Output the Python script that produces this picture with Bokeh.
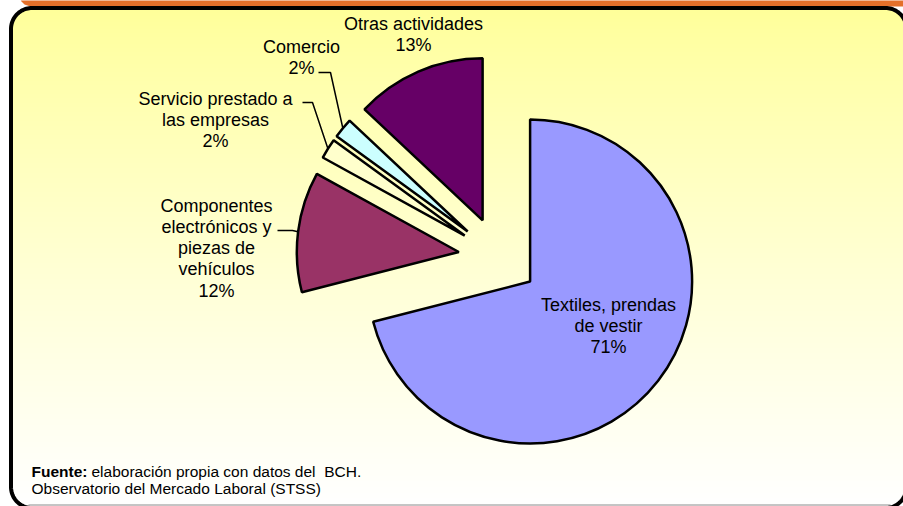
import numpy as np
from bokeh.plotting import figure
from bokeh.models import Range1d, ColumnDataSource
from bokeh.embed import file_html
from bokeh.resources import INLINE
from bokeh.core.properties import value

# ---------------- data ----------------
categories = ["Textiles, prendas de vestir",
              "Componentes electrónicos y piezas de vehículos",
              "Servicio prestado a las empresas",
              "Comercio",
              "Otras actividades"]
shares = [71, 12, 2, 2, 13]
colors = ["#9999FF", "#993366", "#FFFFCC", "#CCFFFF", "#660066"]
label_lines = [["Textiles, prendas", "de vestir"],
               ["Componentes", "electrónicos y", "piezas de", "vehículos"],
               ["Servicio prestado a", "las empresas"],
               ["Comercio"],
               ["Otras actividades"]]
source_bold = "Fuente:"
source_text = "elaboración propia con datos del\u00a0 BCH."
source_text2 = "Observatorio del Mercado Laboral (STSS)"

# ---------------- layout (page pixel coords, y down) ----------------
W, H = 903, 506
FONT = value("Liberation Sans")
def Y(ref_y):  # page y (down) -> data y (up)
    return H - ref_y

cx, cy = 498.0, Y(256.5)
R = 162.0
EXPLODE = 40.0
TXT_SHIFT = -5
label_pos = [(608, 309), (216, 210), (215, 103), (301, 51), (413, 28)]
line_step = 21.3
leaders = {1: [(277, 230), (292, 230)],
           2: [(302, 102), (312, 102)],
           3: [(318, 72), (330, 72)]}

p = figure(width=W, height=H, x_range=Range1d(0, W), y_range=Range1d(0, H),
           output_backend="svg", toolbar_location=None, min_border=0,
           x_axis_type=None, y_axis_type=None,
           background_fill_color="white", border_fill_color="white",
           outline_line_color=None)
p.grid.visible = False

# ---- orange header band (cut off at top) ----
hx = [20, 903, 903, 30, 24, 21]
hy = [Y(-1), Y(-1), Y(6), Y(6), Y(4), Y(1)]
p.patch(hx, hy, fill_color="#E4702A", line_color=None)

# ---- gradient panel background (rounded) ----
px0, px1, ptop, pbot, prad = 10, 906, 7, 507, 20
iw, ih = px1 - px0, pbot - ptop
img = np.zeros((ih, iw), dtype=np.uint32)
view = img.view(dtype=np.uint8).reshape((ih, iw, 4))
rows = np.arange(ih)
ref_y = pbot - rows - 0.5
t = np.clip((ref_y - ptop) / (503 - ptop), 0, 1)
blue = (153 + 102 * t ** 0.85).astype(np.uint8)
view[..., 0] = 255
view[..., 1] = 255
view[..., 2] = blue[:, None]
xx = np.arange(iw)[None, :] + 0.5
ytop = np.arange(ih)[::-1][:, None] + 0.5
dx = np.maximum(np.maximum(prad - xx, xx - (iw - prad)), 0)
dy = np.maximum(np.maximum(prad - ytop, ytop - (ih - prad)), 0)
mask = (dx ** 2 + dy ** 2) <= prad ** 2
view[..., 3] = np.where(mask, 255, 0).astype(np.uint8)
p.image_rgba(image=[img], x=px0, y=Y(pbot), dw=iw, dh=ih)

# border path
def rounded_rect(x0, y0, x1, y1, r, n=24):
    xs, ys = [], []
    for (ccx, ccy, a0) in [(x1 - r, y1 - r, 0), (x0 + r, y1 - r, 90),
                           (x0 + r, y0 + r, 180), (x1 - r, y0 + r, 270)]:
        a = np.radians(np.linspace(a0, a0 + 90, n))
        xs += list(ccx + r * np.cos(a))
        ys += list(ccy + r * np.sin(a))
    return xs, ys
p.line([28, 890], [Y(504.5), Y(504.5)], line_color="#8a8a8a", line_width=1)
bx, by = rounded_rect(10.5, Y(507.5), 906, Y(7.5), 21)
p.line(bx + [bx[0]], by + [by[0]], line_color="black", line_width=4)

# ---- pie ----
vals = np.array(shares, dtype=float)
cum = np.concatenate([[0], np.cumsum(vals)]) / vals.sum() * 360.0  # clockwise from top
a0 = cum[:-1]; a1 = cum[1:]
mid = np.radians((a0 + a1) / 2)
ax = cx + EXPLODE * np.sin(mid)
ay = cy + EXPLODE * np.cos(mid)
start = np.radians(90 - a1)
end = np.radians(90 - a0)
src = ColumnDataSource(dict(x=ax, y=ay, s=start, e=end, c=colors, cat=categories))
p.wedge(x="x", y="y", radius=R, start_angle="s", end_angle="e", fill_color="c",
        line_color="black", line_width=2.5, source=src)

# ---- leader lines ----
for i, pts in leaders.items():
    ox = ax[i] + R * np.sin(mid[i])
    oy = ay[i] + R * np.cos(mid[i])
    xs = [pts[0][0], pts[1][0], ox]
    ys = [Y(pts[0][1]), Y(pts[1][1]), oy]
    p.line(xs, ys, line_color="black", line_width=1.5)

# ---- labels ----
tx, ty, tt = [], [], []
for i, lines in enumerate(label_lines):
    lx, ly = label_pos[i]
    full = lines + [f"{shares[i]}%"]
    for k, s in enumerate(full):
        tx.append(lx); ty.append(Y(ly + TXT_SHIFT + k * line_step)); tt.append(s)
p.text(x=tx, y=ty, text=tt, text_font=FONT, text_font_size="18px",
       text_align="center", text_baseline="alphabetic", text_color="black")

# ---- source note ----
p.text(x=[31], y=[Y(476 + TXT_SHIFT)], text=[source_bold], text_font=FONT, text_font_size="15.5px",
       text_font_style="bold", text_align="left", text_baseline="alphabetic", text_color="black")
p.text(x=[91], y=[Y(476 + TXT_SHIFT)], text=[source_text], text_font=FONT, text_font_size="15.5px",
       text_align="left", text_baseline="alphabetic", text_color="black")
p.text(x=[31], y=[Y(493 + TXT_SHIFT)], text=[source_text2], text_font=FONT, text_font_size="15.5px",
       text_align="left", text_baseline="alphabetic", text_color="black")

open("out.html", "w").write(file_html(p, INLINE))
